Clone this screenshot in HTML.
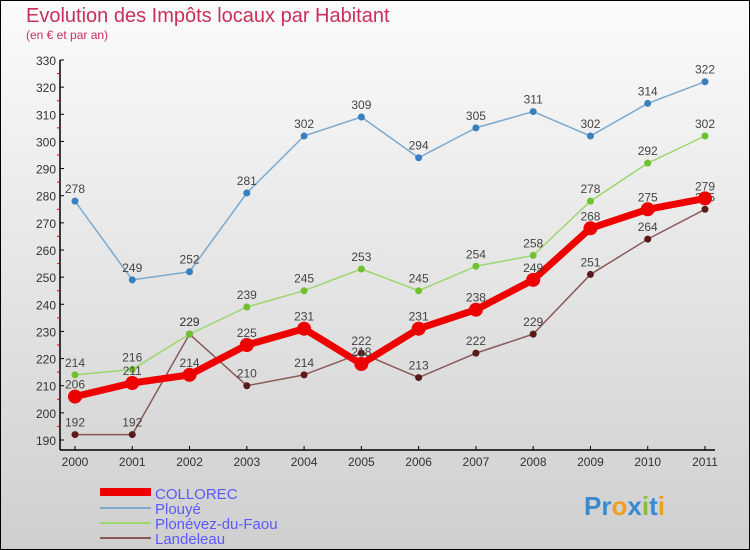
<!DOCTYPE html>
<html><head><meta charset="utf-8"><style>
body{margin:0;width:750px;height:550px;overflow:hidden}
svg{display:block;font-family:"Liberation Sans",sans-serif}
</style></head><body>
<svg id="chart" width="750" height="550">
<defs><linearGradient id="bg" x1="0" y1="0" x2="0" y2="1"><stop offset="0" stop-color="#fbfbfb"/><stop offset="1" stop-color="#cfcfcf"/></linearGradient></defs>
<rect x="0.5" y="0.5" width="749" height="549" fill="url(#bg)" stroke="#000"/>
<text x="26" y="22" font-size="20" fill="#c8305a">Evolution des Impôts locaux par Habitant</text>
<text x="26" y="39" font-size="12" fill="#c8305a">(en € et par an)</text>
<g id="axes"></g><g id="series"></g>
<g>
<rect x="100" y="488" width="51" height="8" fill="#e00"/>
<text x="155" y="499" font-size="15" fill="#5a5aff">COLLOREC</text>
<line x1="100" y1="508" x2="151" y2="508" stroke="#7aaad0" stroke-width="2"/>
<text x="155" y="514" font-size="15" fill="#5a5aff">Plouyé</text>
<line x1="100" y1="523" x2="151" y2="523" stroke="#9ed66e" stroke-width="2"/>
<text x="155" y="529" font-size="15" fill="#5a5aff">Plonévez-du-Faou</text>
<line x1="100" y1="538" x2="151" y2="538" stroke="#8a5a5a" stroke-width="2"/>
<text x="155" y="544" font-size="15" fill="#5a5aff">Landeleau</text>
</g>
<g font-size="26" font-weight="bold">
<text x="584" y="515"><tspan fill="#3a8ad0">Pr</tspan><tspan fill="#f0a020">o</tspan><tspan fill="#3a8ad0">x</tspan><tspan fill="#80c040">i</tspan><tspan fill="#3a8ad0">t</tspan><tspan fill="#f0a020">i</tspan></text>
</g>
</svg>
<script>
const years=["2000","2001","2002","2003","2004","2005","2006","2007","2008","2009","2010","2011"];
const collorec=[206,211,214,225,231,218,231,238,249,268,275,279];
const plouye=[278,249,252,281,302,309,294,305,311,302,314,322];
const plonevez=[214,216,229,239,245,253,245,254,258,278,292,302];
const landeleau=[192,192,229,210,214,222,213,222,229,251,264,275];
const yTicks=[190,200,210,220,230,240,250,260,270,280,290,300,310,320,330];
const NS="http://www.w3.org/2000/svg";
function X(i){return 75+i*(630/11);}
function Y(v){return 440-(v-190)*(380/140);}
function mk(t,a,p){const e=document.createElementNS(NS,t);for(const k in a)e.setAttribute(k,a[k]);p.appendChild(e);return e;}
const ax=document.getElementById('axes');
let l=mk('line',{x1:60,y1:60,x2:60,y2:450,stroke:'#000','stroke-width':1.5},ax);


l=mk('line',{x1:60,y1:450,x2:715,y2:450,stroke:'#000','stroke-width':1.5},ax);


yTicks.forEach(v=>{
 mk('line',{x1:60,y1:Y(v),x2:64,y2:Y(v),stroke:'#000'},ax);
 if(v<330) mk('line',{x1:57,y1:Y(v+5),x2:60,y2:Y(v+5),stroke:'#e00'},ax);
 const t=mk('text',{x:56,y:Y(v)+5,'font-size':12,fill:'#333','text-anchor':'end'},ax);t.textContent=v;
 
 
});
years.forEach((y,i)=>{
 mk('line',{x1:X(i),y1:446,x2:X(i),y2:450,stroke:'#000'},ax);
 const t=mk('text',{x:X(i),y:466,'font-size':12,fill:'#333','text-anchor':'middle'},ax);t.textContent=y;
 
 
});
const sg=document.getElementById('series');
function draw(data,color,w,r,dot,name){
 const g=mk('g',{},sg);
 
 
 mk('polyline',{points:data.map((v,i)=>X(i)+','+Y(v)).join(' '),fill:'none',stroke:color,'stroke-width':w,'stroke-linejoin':'round'},g);
 data.forEach((v,i)=>{
  const c=mk('circle',{cx:X(i),cy:Y(v),r:r,fill:dot},g);
  
  
  const t=mk('text',{x:X(i),y:Y(v)-8,'font-size':12,fill:'#444','text-anchor':'middle'},g);t.textContent=v;
 });
}
draw(landeleau,'#8a5a5a',1.5,3.5,'#5a1a1a','landeleau');
draw(plonevez,'#9ed66e',1.5,3.5,'#70c030','plonevez');
draw(plouye,'#7aaad0',1.5,3.5,'#3a80c0','plouye');
draw(collorec,'#ee0000',7,7,'#ee0000','collorec');
</script>
</body></html>
